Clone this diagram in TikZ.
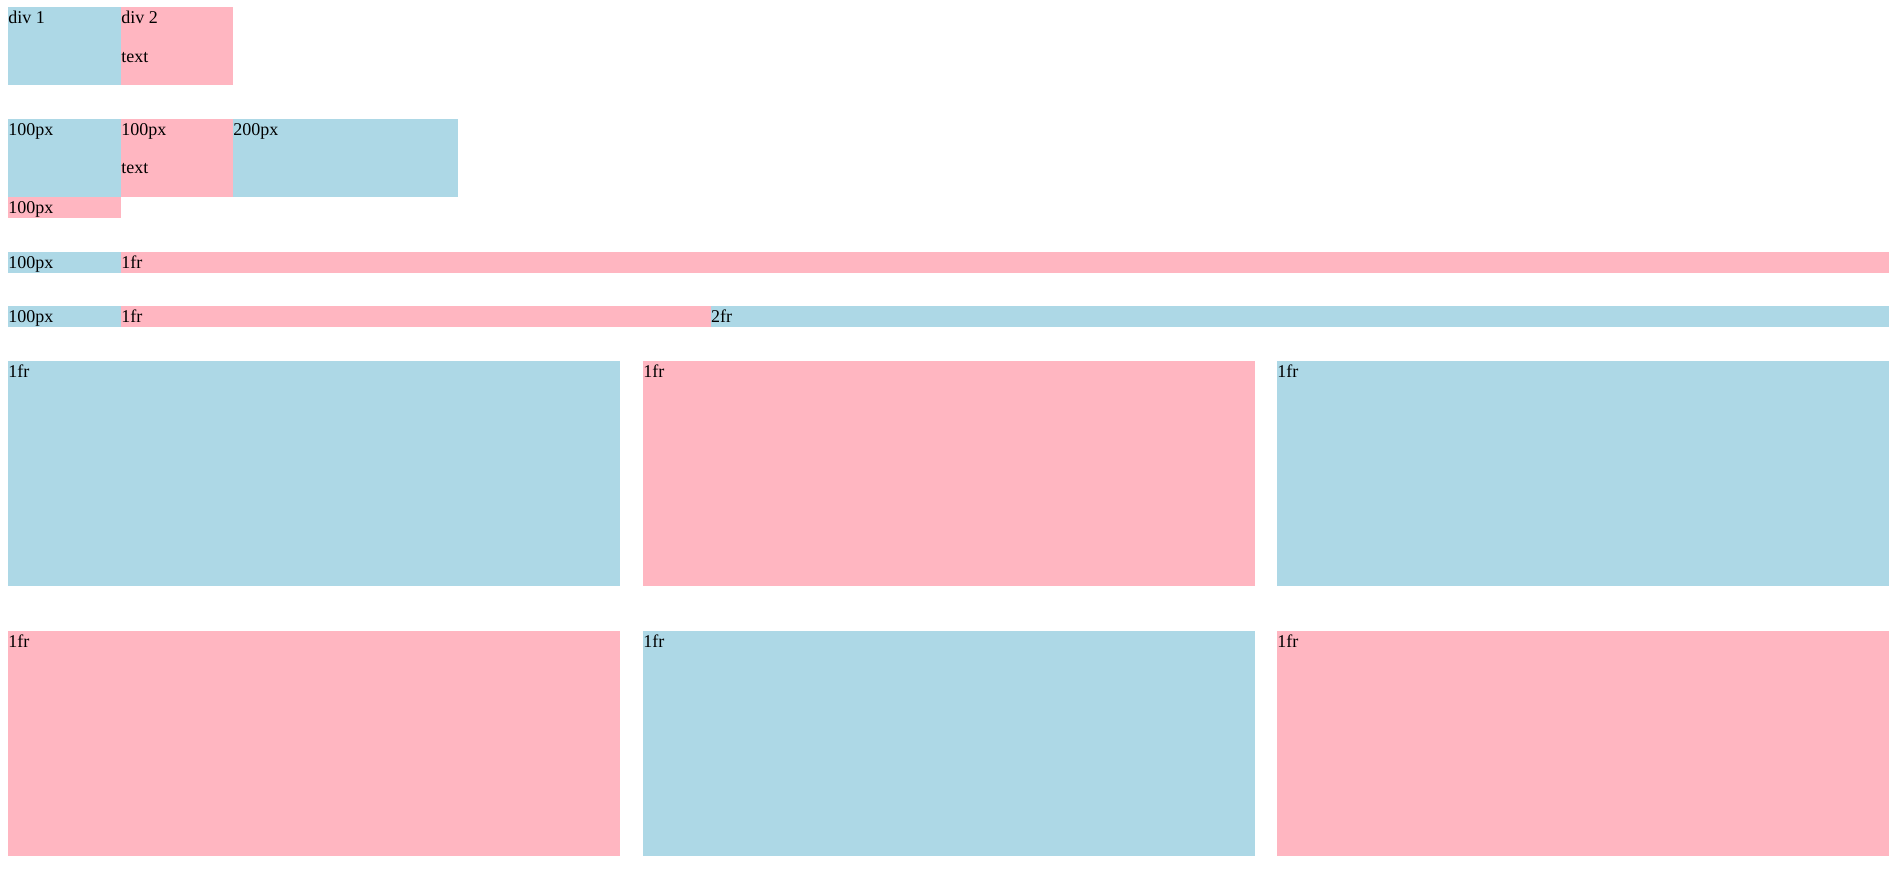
\documentclass[tikz,border=0pt]{standalone}
\usepackage{fontspec}
\setmainfont{Liberation Serif}
\definecolor{lb}{HTML}{ADD8E6}
\definecolor{lp}{HTML}{FFB6C1}
\tikzset{
  box/.style={rectangle, inner sep=0pt, outer sep=0pt, draw=none, anchor=north west},
  bluebox/.style={box, fill=lb},
  pinkbox/.style={box, fill=lp},
  lbl/.style={anchor=base west, inner sep=0pt, outer sep=0pt, font=\fontsize{18}{20}\selectfont}
}
\begin{document}
\begin{tikzpicture}[x=1pt,y=-1pt]
\useasboundingbox (0,0) rectangle (1890,876);
% row 1
\node[bluebox, minimum width=113pt, minimum height=78pt] (a1) at (8,7) {};
\node[pinkbox, minimum width=112pt, minimum height=78pt] (a2) at (121,7) {};
\node[lbl] (ta1) at (8.3,23) {div 1};
\node[lbl] (ta2) at (121.3,23) {div 2};
\node[lbl] (ta3) at (121.3,62) {text};
% row 2
\node[bluebox, minimum width=113pt, minimum height=78pt] (b1) at (8,119) {};
\node[pinkbox, minimum width=112pt, minimum height=78pt] (b2) at (121,119) {};
\node[bluebox, minimum width=225pt, minimum height=78pt] (b3) at (233,119) {};
\node[pinkbox, minimum width=113pt, minimum height=21pt] (b4) at (8,197) {};
\node[lbl] (tb1) at (8.3,135) {100px};
\node[lbl] (tb2) at (121.3,135) {100px};
\node[lbl] (tb3) at (233.3,135) {200px};
\node[lbl] (tb4) at (121.3,173.5) {text};
\node[lbl] (tb5) at (8.3,213.3) {100px};
% row 3
\node[bluebox, minimum width=113pt, minimum height=21pt] (c1) at (8,252) {};
\node[pinkbox, minimum width=1768pt, minimum height=21pt] (c2) at (121,252) {};
\node[lbl] (tc1) at (8.3,268.5) {100px};
\node[lbl] (tc2) at (121.3,268.5) {1fr};
% row 4
\node[bluebox, minimum width=113pt, minimum height=21pt] (d1) at (8,306) {};
\node[pinkbox, minimum width=589.7pt, minimum height=21pt] (d2) at (121,306) {};
\node[bluebox, minimum width=1178.3pt, minimum height=21pt] (d3) at (710.7,306) {};
\node[lbl] (td1) at (8.3,322.5) {100px};
\node[lbl] (td2) at (121.3,322.5) {1fr};
\node[lbl] (td3) at (711,322.5) {2fr};
% row 5
\node[bluebox, minimum width=612pt, minimum height=225pt] (e1) at (8,361) {};
\node[pinkbox, minimum width=612pt, minimum height=225pt] (e2) at (643,361) {};
\node[bluebox, minimum width=612pt, minimum height=225pt] (e3) at (1277,361) {};
\node[lbl] (te1) at (8.3,377.5) {1fr};
\node[lbl] (te2) at (643.3,377.5) {1fr};
\node[lbl] (te3) at (1277.3,377.5) {1fr};
% row 6
\node[pinkbox, minimum width=612pt, minimum height=225pt] (f1) at (8,631) {};
\node[bluebox, minimum width=612pt, minimum height=225pt] (f2) at (643,631) {};
\node[pinkbox, minimum width=612pt, minimum height=225pt] (f3) at (1277,631) {};
\node[lbl] (tf1) at (8.3,647.5) {1fr};
\node[lbl] (tf2) at (643.3,647.5) {1fr};
\node[lbl] (tf3) at (1277.3,647.5) {1fr};
\end{tikzpicture}
\end{document}
